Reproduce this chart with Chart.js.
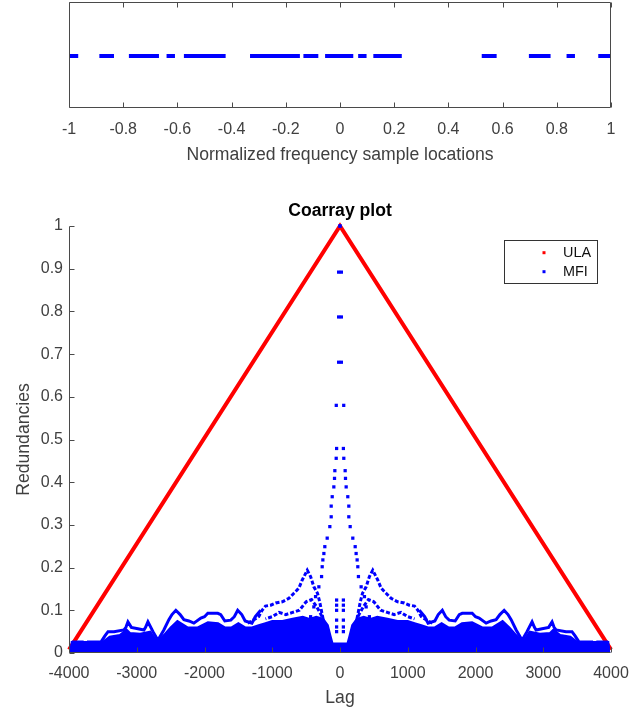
<!DOCTYPE html>
<html>
<head>
<meta charset="utf-8">
<title>Coarray plot</title>
<script src="https://cdn.jsdelivr.net/npm/chart.js@4.4.0/dist/chart.umd.min.js"></script>
<style>
  html, body { margin: 0; padding: 0; background: #fff; }
  #wrap { position: relative; width: 642px; height: 709px; }
  #freq-plot { position: absolute; left: 0; top: 0; }
  #coarray-plot { position: absolute; left: 0; top: 190px; }
</style>
</head>
<body>
<div id="wrap">
  <canvas id="freq-plot" width="642" height="170"></canvas>
  <canvas id="coarray-plot" width="642" height="519"></canvas>
</div>
<script>
// sampled frequency bands (normalized frequency, start / end of each run of samples)
let bandStart = [-1.0, -0.888, -0.779, -0.640, -0.576, -0.332, -0.135, -0.055, 0.067, 0.123, 0.523, 0.697, 0.836, 0.953];
let bandEnd   = [-0.966, -0.834, -0.668, -0.609, -0.422, -0.148, -0.080, 0.049, 0.098, 0.228, 0.578, 0.777, 0.867, 1.0];

let freqTicks = [-1, -0.8, -0.6, -0.4, -0.2, 0, 0.2, 0.4, 0.6, 0.8, 1];
let lagTicks  = [-4000, -3000, -2000, -1000, 0, 1000, 2000, 3000, 4000];
let redTicks  = [0, 0.1, 0.2, 0.3, 0.4, 0.5, 0.6, 0.7, 0.8, 0.9, 1];

// ULA coarray (triangle)
let ulaLag = [-4000, 0, 4000];
let ulaRed = [0.008, 1, 0.008];

// MFI coarray, positive lags only - the coarray is symmetric so the negative side is mirrored
// single samples around zero lag and the main peak
let peakLag = [0, 20, 20, 20, 55, 50, 56, 76, 81, 91, 115, 130, 130, 150, 189, 224, 238, 253, 263, 272, 312, 361, 386, 434, 479,
               50, 50, 50, 50, 50, 50];
let peakRed = [1.0, 0.892, 0.787, 0.681, 0.58, 0.479, 0.456, 0.427, 0.409, 0.389, 0.366, 0.344, 0.319, 0.296, 0.269, 0.249, 0.233, 0.218, 0.202, 0.179, 0.155, 0.132, 0.108, 0.085, 0.054,
               0.124, 0.112, 0.1, 0.077, 0.061, 0.05];

// side lobe next to the main peak
let ridgeLag = [250, 300, 332, 386, 434, 483, 557, 607, 680, 754, 851, 950, 1023, 1100, 1150, 1200, 1300, 1362];
let ridgeRed = [0.08, 0.12, 0.14, 0.155, 0.179, 0.194, 0.171, 0.152, 0.14, 0.128, 0.12, 0.117, 0.112, 0.11, 0.1, 0.085, 0.075, 0.07];

// lower branch under the side lobe
let lobeLag = [200, 280, 350, 420, 500, 600, 700, 800, 900, 1000, 1100];
let lobeRed = [0.06, 0.09, 0.11, 0.125, 0.12, 0.1, 0.095, 0.09, 0.095, 0.085, 0.08];

// upper edge of the far lags
let edgeLag = [1171, 1250, 1300, 1400, 1450, 1510, 1560, 1612, 1700, 1760, 1804, 1951, 2000, 2054, 2157, 2230, 2304, 2360, 2423, 2480, 2526, 2600, 2688, 2760,
               2835, 2870, 2894, 2983, 3080, 3130, 3160, 3189, 3336, 3424, 3470, 3527, 3719, 3760, 3800, 3896, 3940, 3969];
let edgeRed = [0.1, 0.085, 0.07, 0.075, 0.09, 0.1, 0.085, 0.077, 0.075, 0.09, 0.093, 0.093, 0.085, 0.082, 0.07, 0.075, 0.078, 0.09, 0.1, 0.09, 0.078, 0.054, 0.03, 0.05,
               0.073, 0.06, 0.054, 0.057, 0.06, 0.073, 0.06, 0.054, 0.05, 0.05, 0.04, 0.026, 0.026, 0.01, 0.026, 0.026, 0.026, 0.01];

// dense low-redundancy floor
let massLag = [0, 110, 140, 180, 250, 350, 450, 550, 700, 850, 1000, 1100, 1200, 1300, 1400, 1500, 1600, 1700, 1800, 1950, 2100, 2250, 2400, 2500, 2600, 2700,
               2800, 2950, 3100, 3150, 3250, 3400, 3500, 3960, 3975];
let massRed = [0.022, 0.022, 0.04, 0.065, 0.08, 0.085, 0.08, 0.085, 0.08, 0.075, 0.075, 0.07, 0.065, 0.06, 0.06, 0.07, 0.06, 0.06, 0.07, 0.072, 0.06, 0.06, 0.075, 0.06, 0.042, 0.026,
               0.05, 0.045, 0.047, 0.055, 0.042, 0.038, 0.026, 0.026, 0];

const BLUE = '#0000ff';
const RED = '#ff0000';
const AXIS = '#4a4a4a';
const FONT = '"Liberation Sans", Arial, Helvetica, sans-serif';

Chart.defaults.font.family = FONT;
Chart.defaults.color = '#404040';

function toPoints(xs, ys, sign) {
    return xs.map(function (x, i) { return {x: sign * x, y: ys[i]}; });
}

// whole curve from -lag to +lag, sorted by lag
function bothSides(xs, ys) {
    let left = toPoints(xs, ys, -1).filter(function (p) { return p.x < 0; }).reverse();
    return left.concat(toPoints(xs, ys, 1));
}

function tickLabel(v) {
    return String(Number(v.toFixed(1)));
}

function lineSet(points, dash) {
    return {
        label: 'MFI', data: points, showLine: true,
        borderColor: BLUE, borderWidth: 3, borderDash: dash || [], pointRadius: 0, order: 1
    };
}

// draws the MATLAB style axes: inward tick marks, optional full box
const axesFrame = {
    id: 'axesFrame',
    afterDraw(chart, args, opts) {
        const ctx = chart.ctx;
        const a = chart.chartArea;
        const len = 5;
        ctx.save();
        ctx.strokeStyle = AXIS;
        ctx.lineWidth = 1;
        ctx.beginPath();
        const L = Math.round(a.left) + 0.5, R = Math.round(a.right) - 0.5;
        const T = Math.round(a.top) + 0.5, B = Math.round(a.bottom) - 0.5;
        if (opts.box) {
            ctx.rect(L, T, R - L, B - T);
        } else {
            ctx.moveTo(L, T);
            ctx.lineTo(L, B);
            ctx.lineTo(R, B);
        }
        const xs = chart.scales.x;
        xs.ticks.forEach(function (t) {
            const px = Math.round(xs.getPixelForValue(t.value)) + 0.5;
            ctx.moveTo(px, B);
            ctx.lineTo(px, B - len);
            if (opts.box) {
                ctx.moveTo(px, T);
                ctx.lineTo(px, T + len);
            }
        });
        if (!opts.box) {
            const ys = chart.scales.y;
            ys.ticks.forEach(function (t) {
                const py = Math.round(ys.getPixelForValue(t.value)) + 0.5;
                ctx.moveTo(L, py);
                ctx.lineTo(L + len, py);
            });
        }
        ctx.stroke();
        ctx.restore();
    }
};

// legend box inside the axes
const boxLegend = {
    id: 'boxLegend',
    afterDraw(chart, args, opts) {
        const ctx = chart.ctx;
        const items = chart.data.datasets.filter(function (d) { return d.legendRank; })
            .sort(function (a, b) { return a.legendRank - b.legendRank; });
        ctx.save();
        ctx.fillStyle = '#fff';
        ctx.fillRect(opts.x, opts.y, opts.w, opts.h);
        ctx.strokeStyle = '#333';
        ctx.lineWidth = 1;
        ctx.strokeRect(opts.x + 0.5, opts.y + 0.5, opts.w, opts.h);
        ctx.font = '14.4px ' + FONT;
        ctx.textBaseline = 'middle';
        items.forEach(function (d, i) {
            const cy = opts.y + opts.first + i * opts.gap;
            ctx.fillStyle = d.borderColor === RED ? RED : BLUE;
            ctx.fillRect(opts.markX - 1.5, cy - 1.5, 3, 3);
            ctx.fillStyle = '#111';
            ctx.fillText(d.label, opts.textX, cy);
        });
        ctx.restore();
    }
};

// ---- sample locations strip ----
let bandPoints = [];
for (let i = 0; i < bandStart.length; i++) {
    bandPoints.push({x: bandStart[i], y: 0}, {x: bandEnd[i], y: 0}, {x: bandEnd[i], y: null});
}

let freqChart = new Chart(document.querySelector('#freq-plot'), {
    type: 'scatter',
    data: {
        datasets: [{
            data: bandPoints,
            showLine: true,
            spanGaps: false,
            borderColor: BLUE,
            borderWidth: 4,
            borderCapStyle: 'butt',
            pointRadius: 0,
            clip: false
        }]
    },
    options: {
        responsive: false,
        animation: false,
        events: [],
        layout: { padding: { left: 69, right: 31, top: 2, bottom: 0 } },
        plugins: {
            legend: { display: false },
            tooltip: { enabled: false },
            axesFrame: { box: true }
        },
        scales: {
            x: {
                type: 'linear',
                min: -1,
                max: 1,
                afterBuildTicks: function (scale) { scale.ticks = freqTicks.map(function (v) { return {value: v}; }); },
                afterFit: function (scale) { scale.height = 62; },
                grid: { display: false, drawTicks: false },
                border: { display: false },
                ticks: { padding: 12, font: { size: 16 }, autoSkip: false, maxRotation: 0, callback: tickLabel },
                title: { display: true, text: 'Normalized frequency sample locations', font: { size: 17.6 }, padding: { top: 0, bottom: 4 } }
            },
            y: { display: false, min: -0.98, max: 1.02 }
        }
    },
    plugins: [axesFrame]
});

// ---- coarray plot ----
let coarrayChart = new Chart(document.querySelector('#coarray-plot'), {
    type: 'scatter',
    data: {
        datasets: [
            {
                label: 'MFI', legendRank: 2,
                data: toPoints(peakLag, peakRed, 1).concat(toPoints(peakLag, peakRed, -1)),
                showLine: false, pointStyle: 'rect', pointRadius: 2.3,
                backgroundColor: BLUE, borderColor: BLUE, borderWidth: 0, order: 0, clip: false
            },
            lineSet(toPoints(ridgeLag, ridgeRed, -1), [4, 2]),
            lineSet(toPoints(ridgeLag, ridgeRed, 1), [4, 2]),
            lineSet(toPoints(lobeLag, lobeRed, -1), [4, 2]),
            lineSet(toPoints(lobeLag, lobeRed, 1), [4, 2]),
            lineSet(toPoints(edgeLag, edgeRed, -1)),
            lineSet(toPoints(edgeLag, edgeRed, 1)),
            {
                label: 'MFI', data: bothSides(massLag, massRed), showLine: true, fill: 'origin',
                borderColor: BLUE, backgroundColor: BLUE, borderWidth: 2, pointRadius: 0, order: 2
            },
            {
                label: 'ULA', legendRank: 1,
                data: toPoints(ulaLag, ulaRed, 1), showLine: true,
                borderColor: RED, borderWidth: 4, pointRadius: 0, order: 3, clip: false
            }
        ]
    },
    options: {
        responsive: false,
        animation: false,
        events: [],
        layout: { padding: { left: 0, right: 31, top: 0, bottom: 0 } },
        plugins: {
            legend: { display: false },
            tooltip: { enabled: false },
            title: {
                display: true,
                text: 'Coarray plot',
                fullSize: false,
                color: '#000',
                font: { size: 17.6, weight: 'bold' },
                padding: { top: 10.4, bottom: 4.5 }
            },
            axesFrame: { box: false },
            boxLegend: { x: 504, y: 50, w: 93, h: 43, first: 12.7, gap: 19, markX: 544, textX: 563 }
        },
        scales: {
            x: {
                type: 'linear',
                min: -4000,
                max: 4000,
                afterBuildTicks: function (scale) { scale.ticks = lagTicks.map(function (v) { return {value: v}; }); },
                afterFit: function (scale) { scale.height = 56; },
                grid: { display: false, drawTicks: false },
                border: { display: false },
                ticks: { padding: 11, font: { size: 16 }, autoSkip: false, maxRotation: 0, callback: function (v) { return String(v); } },
                title: { display: true, text: 'Lag', font: { size: 17.6 }, padding: { top: 0, bottom: 0 } }
            },
            y: {
                type: 'linear',
                min: 0,
                max: 1,
                afterBuildTicks: function (scale) { scale.ticks = redTicks.map(function (v) { return {value: v}; }); },
                afterFit: function (scale) { scale.width = 69; },
                grid: { display: false, drawTicks: false },
                border: { display: false },
                ticks: { padding: 6, font: { size: 16 }, autoSkip: false, callback: tickLabel },
                title: { display: true, text: 'Redundancies', font: { size: 17.6 }, padding: { top: 14, bottom: 0 } }
            }
        }
    },
    plugins: [axesFrame, boxLegend]
});
</script>
</body>
</html>
